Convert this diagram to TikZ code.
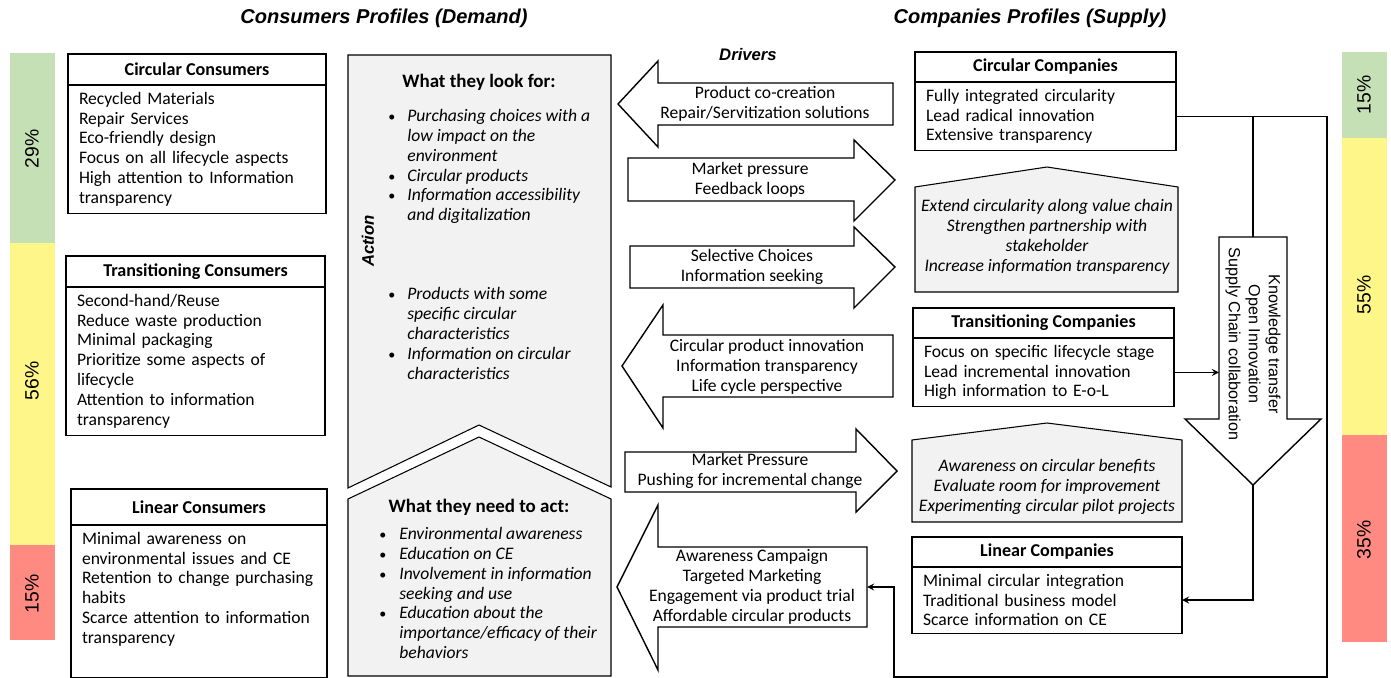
\documentclass[tikz,border=0pt]{standalone}
\usepackage{fontspec}
\setmainfont{Carlito}
\newfontfamily\labelfont{Liberation Sans}
\usetikzlibrary{positioning}

\definecolor{lowgreen}{HTML}{C5E0B4}
\definecolor{midyellow}{HTML}{FFF68A}
\definecolor{highred}{HTML}{FF8A82}
\definecolor{panelgray}{HTML}{F2F2F2}

% bullet and hanging indent for the lists
\newcommand{\bitem}[1][3.8mm]{\makebox[#1][l]{\upshape\footnotesize\textbullet}}
\newcommand{\bcont}[1][3.8mm]{\hspace*{#1}}

\tikzset{
  profhead/.style={draw, line width=0.6pt, anchor=north west, inner sep=0pt, outer sep=0pt,
    font=\bfseries\fontsize{10.3}{12}\selectfont},
  profbody/.style={draw, line width=0.6pt, align=left, inner xsep=2.2mm, inner ysep=1.4mm,
    outer sep=0pt, font=\fontsize{10}{11.3}\selectfont},
  panel/.style={draw, line width=0.6pt, fill=panelgray},
  blockarrow/.style={draw, line width=0.8pt, fill=white},
  flow/.style={line width=0.8pt, ->, >=stealth},
  drivertext/.style={align=center, font=\fontsize{10}{11.3}\selectfont},
  listtext/.style={align=left, inner sep=0pt, anchor=north west, font=\itshape\fontsize{10}{11.3}\selectfont},
  panelnote/.style={align=center, font=\itshape\fontsize{10}{11.3}\selectfont},
  listtitle/.style={font=\bfseries\fontsize{10.8}{12}\selectfont},
  heading/.style={font=\labelfont\bfseries\itshape\fontsize{11.4}{13}\selectfont},
  sidetag/.style={font=\labelfont\bfseries\itshape\fontsize{9.5}{11}\selectfont},
  pct/.style={rotate=90, font=\labelfont\fontsize{11}{13}\selectfont}
}

\begin{document}
\begin{tikzpicture}[x=0.2mm, y=-0.2mm]
    \useasboundingbox (0,0) rectangle (1391,678);

    % share of each profile
    \fill[lowgreen] (10,53) rectangle (55,243);
    \fill[midyellow] (10,243) rectangle (55,545);
    \fill[highred] (10,545) rectangle (55,640);
    \fill[lowgreen] (1342,52) rectangle (1387,138);
    \fill[midyellow] (1342,138) rectangle (1387,435);
    \fill[highred] (1342,435) rectangle (1387,642);
    \node[pct] (lg) at (32,149) {29\%};
    \node[pct] (ly) at (32,381) {56\%};
    \node[pct] (lr) at (32,594) {15\%};
    \node[pct] (rg) at (1364,95) {15\%};
    \node[pct] (ry) at (1364,295) {55\%};
    \node[pct] (rr) at (1364,540) {35\%};

    \node[heading] (dem) at (384,18) {Consumers Profiles (Demand)};
    \node[heading] (sup) at (1030,18) {Companies Profiles (Supply)};
    \node[sidetag] (drv) at (748,55) {Drivers};

    % consumers
    \node[profhead, minimum width=51.6mm, minimum height=6.2mm] (cch) at (68,54) {Circular Consumers};
    \node[profbody, text width=47.2mm, below=0pt of cch] (ccb) {Recycled Materials\\ Repair Services\\ Eco-friendly design\\ Focus on all lifecycle aspects\\ High attention to Information\\ transparency};
    \node[profhead, minimum width=51.8mm, minimum height=6.2mm] (tch) at (66,256) {Transitioning Consumers};
    \node[profbody, text width=47.4mm, below=0pt of tch] (tcb) {Second-hand/Reuse\\ Reduce waste production\\ Minimal packaging\\ Prioritize some aspects of\\ lifecycle\\ Attention to information\\ transparency};
    \node[profhead, minimum width=51.2mm, minimum height=7.2mm] (lch) at (71,489) {Linear Consumers};
    \node[profbody, text width=46.8mm, below=0pt of lch] (lcb) {Minimal awareness on\\ environmental issues and CE\\ Retention to change purchasing\\ habits\\ Scarce attention to information\\ transparency\\[1.4mm] \mbox{}};

    % action column
    \draw[panel] (348,55) -- (611,55) -- (611,487) -- (479,425) -- (348,488) -- cycle;
    \draw[panel] (348,499) -- (479,437) -- (611,499) -- (611,676) -- (348,676) -- cycle;
    \node[sidetag, rotate=90] (act) at (368,241) {Action};
    \node[listtitle] (lookt) at (479,82) {What they look for:};
    \node[listtext] (lookl) at (388,109) {\bitem Purchasing choices with a\\ \bcont low impact on the\\ \bcont environment\\ \bitem Circular products\\ \bitem Information accessibility\\ \bcont and digitalization\\[33.6pt] \bitem Products with some\\ \bcont specific circular\\ \bcont characteristics\\ \bitem Information on circular\\ \bcont characteristics};
    \node[listtitle] (needt) at (479,507) {What they need to act:};
    \node[listtext] (needl) at (379,527) {\bitem[3.2mm] Environmental awareness\\ \bitem[3.2mm] Education on CE\\ \bitem[3.2mm] Involvement in information\\ \bcont[3.2mm] seeking and use\\ \bitem[3.2mm] Education about the\\ \bcont[3.2mm] importance/efficacy of their\\ \bcont[3.2mm] behaviors};

    % drivers
    \draw[blockarrow] (618,104) -- (658,61) -- (658,83) -- (893,83) -- (893,125) -- (658,125) -- (658,147) -- cycle;
    \draw[blockarrow] (628,158) -- (854,158) -- (854,140) -- (895,180) -- (854,221) -- (854,201) -- (628,201) -- cycle;
    \draw[blockarrow] (630,246) -- (854,246) -- (854,227) -- (895,267) -- (854,308) -- (854,288) -- (630,288) -- cycle;
    \draw[blockarrow] (622,366) -- (663,305) -- (663,335) -- (893,335) -- (893,397) -- (663,397) -- (663,428) -- cycle;
    \draw[blockarrow] (625,452) -- (856,452) -- (856,429) -- (897,471) -- (856,512) -- (856,492) -- (625,492) -- cycle;
    \draw[blockarrow] (617,587) -- (658,505) -- (658,547) -- (867,547) -- (867,627) -- (658,627) -- (658,670) -- cycle;
    \node[drivertext] (d1) at (765,104) {Product co-creation\\ Repair/Servitization solutions};
    \node[drivertext] (d2) at (750,180) {Market pressure\\ Feedback loops};
    \node[drivertext] (d3) at (752,267) {Selective Choices\\ Information seeking};
    \node[drivertext] (d4) at (767,367) {Circular product innovation\\ Information transparency\\ Life cycle perspective};
    \node[drivertext] (d5) at (750,471) {Market Pressure\\ Pushing for incremental change};
    \node[drivertext] (d6) at (752,587) {Awareness Campaign\\ Targeted Marketing\\ Engagement via product trial\\ Affordable circular products};

    % companies
    \node[profhead, minimum width=52.2mm, minimum height=6mm] (cmh) at (915,52) {Circular Companies};
    \node[profbody, text width=47.8mm, below=0pt of cmh] (cmb) {Fully integrated circularity\\ Lead radical innovation\\ Extensive transparency};
    \draw[panel] (915,187) -- (1047,167) -- (1178,187) -- (1178,292) -- (915,292) -- cycle;
    \node[panelnote] (cmp) at (1047,237) {Extend circularity along  value chain\\ Strengthen partnership with\\ stakeholder\\ Increase information transparency};
    \node[profhead, minimum width=52.2mm, minimum height=6mm] (tmh) at (913,308) {Transitioning Companies};
    \node[profbody, text width=47.8mm, below=0pt of tmh] (tmb) {Focus on specific lifecycle stage\\ Lead incremental innovation\\ High information to E-o-L};
    \draw[panel] (912,440) -- (1047,423) -- (1182,440) -- (1182,522) -- (912,522) -- cycle;
    \node[panelnote] (tmp) at (1047,487) {Awareness on circular benefits\\ Evaluate room for improvement\\ Experimenting circular pilot projects};
    \node[profhead, minimum width=54mm, minimum height=6mm] (lmh) at (912,537) {Linear Companies};
    \node[profbody, text width=49.6mm, below=0pt of lmh] (lmb) {Minimal circular integration\\ Traditional business model\\ Scarce information on CE};

    % knowledge flow
    \draw[blockarrow] (1219,237) coordinate (kw) -- (1287,237) -- (1287,419) -- (1321,419) -- (1253,485) coordinate (ktip) -- (1185,419) -- (1219,419) -- cycle;
    \coordinate (ktop) at (1253,237);
    \node[rotate=-90, align=center, font=\labelfont\fontsize{9.2}{11.4}\selectfont] (kt) at (1253,344) {Knowledge transfer\\ Open Innovation\\ Supply Chain collaboration};

    \coordinate (loop) at (1327,677);
    \coordinate (turn) at (894,677);
    \coordinate (a6e) at (867,587);
    \draw[flow] (cmb.east) -| (loop) -- (turn) |- (a6e);
    \draw[line width=0.8pt] (cmb.east -| ktop) -- (ktop);
    \draw[flow] (tmb.east) -- (tmb.east -| kw);
    \draw[flow] (ktip) |- (lmb.east);
\end{tikzpicture}
\end{document}
